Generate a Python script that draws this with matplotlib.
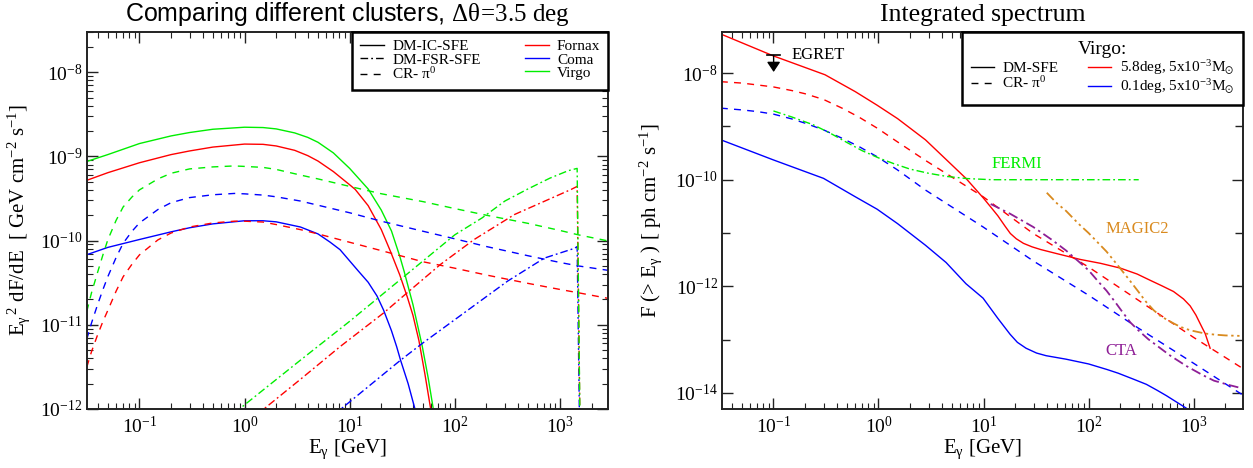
import matplotlib
matplotlib.use('Agg')
import matplotlib.pyplot as plt
import numpy as np
from matplotlib.lines import Line2D
from matplotlib.ticker import LogLocator, FixedLocator, FuncFormatter, NullFormatter

plt.rcParams['font.family'] = ['Liberation Serif', 'DejaVu Serif']
plt.rcParams['mathtext.fontset'] = 'custom'
plt.rcParams['mathtext.rm'] = 'Liberation Serif'
plt.rcParams['mathtext.it'] = 'Liberation Serif:italic'
plt.rcParams['mathtext.bf'] = 'Liberation Serif:bold'
plt.rcParams['mathtext.fallback'] = 'stix'

# ---------------- Left panel data: E^2 dF/dE [GeV cm^-2 s^-1] ----------------
# DM-IC-SFE (solid)
E_ic_virgo = [0.0316, 0.05, 0.1, 0.2, 0.3, 0.5, 1, 1.5, 2, 3, 4, 5, 7, 10, 15, 20, 25, 30, 33, 40, 49, 56, 62.5, 68]
F_ic_virgo = [8.7e-10, 1.05e-9, 1.42e-9, 1.75e-9, 1.92e-9, 2.1e-9, 2.22e-9, 2.2e-9, 2.12e-9, 1.9e-9, 1.68e-9,
              1.47e-9, 1.1e-9, 7.2e-10, 4.1e-10, 2.3e-10, 1.3e-10, 6.5e-11, 4.3e-11, 1.74e-11, 5.6e-12, 2.3e-12,
              1.0e-12, 4e-13]
E_ic_fornax = [0.0316, 0.05, 0.1, 0.2, 0.3, 0.5, 1, 1.5, 2, 3, 4, 5, 7, 10, 11.3, 15, 20, 24.5, 30, 35.3, 40, 45.6,
               52, 59, 64]
F_ic_fornax = [5.2e-10, 6.4e-10, 8.4e-10, 1.05e-9, 1.16e-9, 1.29e-9, 1.4e-9, 1.39e-9, 1.33e-9, 1.18e-9, 1.02e-9,
               8.8e-10, 6.6e-10, 4.6e-10, 4.05e-10, 2.6e-10, 1.35e-10, 7.4e-11, 3.9e-11, 2.15e-11, 1.3e-11, 6.5e-12,
               2.6e-12, 1.0e-12, 4e-13]
E_ic_coma = [0.0316, 0.05, 0.1, 0.2, 0.3, 0.5, 1, 1.5, 2, 3.4, 5, 6.5, 8.1, 12, 15, 18.2, 21, 25, 28, 30.5, 36, 42, 46]
F_ic_coma = [6.8e-11, 8.3e-11, 1.03e-10, 1.27e-10, 1.42e-10, 1.58e-10, 1.72e-10, 1.72e-10, 1.67e-10, 1.45e-10,
             1.2e-10, 9.6e-11, 7.8e-11, 4.4e-11, 3.2e-11, 2.2e-11, 1.5e-11, 8.5e-12, 5.5e-12, 3.8e-12, 2.0e-12,
             9.8e-13, 5e-13]

# CR - pi0 (dashed)
E_cr = [0.0316, 0.035, 0.04, 0.045, 0.05, 0.06, 0.07, 0.085, 0.1, 0.15, 0.2, 0.3, 0.5, 0.8, 1, 1.5, 2, 3.4,
        5, 10, 20, 50, 100, 200, 500, 1000, 1500, 3000]
F_cr_virgo = [1.45e-11, 2.4e-11, 4.2e-11, 6.8e-11, 1.02e-10, 1.74e-10, 2.51e-10, 3.3e-10, 4.0e-10, 5.4e-10, 6.3e-10,
              7.1e-10, 7.5e-10, 7.7e-10, 7.6e-10, 7.4e-10, 7.0e-10, 6.0e-10, 5.4e-10, 4.4e-10, 3.6e-10, 2.9e-10,
              2.4e-10, 2.0e-10, 1.6e-10, 1.32e-10, 1.17e-10, 9.8e-11]
F_cr_coma = [6.8e-12, 1.05e-11, 1.74e-11, 2.63e-11, 3.72e-11, 6.3e-11, 9.3e-11, 1.29e-10, 1.62e-10, 2.34e-10,
             2.82e-10, 3.24e-10, 3.5e-10, 3.63e-10, 3.59e-10, 3.47e-10, 3.31e-10, 2.95e-10, 2.63e-10, 2.14e-10,
             1.7e-10, 1.29e-10, 1.05e-10, 8.5e-11, 6.6e-11, 5.5e-11, 5.0e-11, 4.4e-11]
F_cr_fornax = [3.16e-12, 4.8e-12, 7.6e-12, 1.1e-11, 1.48e-11, 2.51e-11, 3.72e-11, 5.25e-11, 6.76e-11, 1.02e-10,
               1.23e-10, 1.45e-10, 1.62e-10, 1.7e-10, 1.7e-10, 1.66e-10, 1.55e-10, 1.35e-10, 1.2e-10, 9.55e-11,
               7.6e-11, 5.6e-11, 4.7e-11, 3.9e-11, 3.1e-11, 2.63e-11, 2.4e-11, 2.04e-11]

# DM-FSR-SFE (dash-dot)
E_fsr_virgo = [0.8, 1, 3.4, 10, 30, 100, 182, 300, 490, 800, 1200, 1460, 1580]
F_fsr_virgo = [8.9e-13, 1.12e-12, 3.8e-12, 1.1e-11, 3.4e-11, 1.17e-10, 1.86e-10, 2.95e-10, 4.07e-10, 5.5e-10,
               6.76e-10, 7.2e-10, 1e-13]
E_fsr_fornax = [1.3, 3.4, 8.1, 21, 38, 73, 153, 370, 1280, 1460, 1580]
F_fsr_fornax = [8.5e-13, 2.25e-12, 5.5e-12, 1.38e-11, 2.6e-11, 5.2e-11, 1.03e-10, 2.04e-10, 4.05e-10, 4.4e-10, 1e-13]
E_fsr_coma = [7, 8.1, 30.5, 49, 318, 713, 1380, 1460, 1570]
F_fsr_coma = [8.5e-13, 9.8e-13, 3.8e-12, 6.0e-12, 3.3e-11, 6.2e-11, 8.1e-11, 8.5e-11, 1e-13]

# ---------------- Right panel data: F(>E) [ph cm^-2 s^-1] ----------------
E_dm58 = [0.0316, 0.1, 0.31, 0.6, 0.97, 1.52, 2.8, 4.4, 6.8, 9.9, 12, 13.7, 16, 18, 20.5, 24, 29, 35, 50, 83, 130,
          200, 290, 385, 500, 643, 800, 926, 1050, 1153, 1230, 1288, 1384, 1435]
F_dm58 = [5.4e-8, 2.1e-8, 9.3e-9, 4.5e-9, 2.5e-9, 1.4e-9, 5.6e-10, 2.4e-10, 1.06e-10, 4.6e-11, 2.9e-11, 2.1e-11,
          1.35e-11, 9.8e-12, 7.8e-12, 6.4e-12, 5.5e-12, 4.9e-12, 4.1e-12, 3.2e-12, 2.7e-12, 2.2e-12, 1.7e-12,
          1.3e-12, 1.02e-12, 8e-13, 5.8e-13, 4.3e-13, 2.9e-13, 2.0e-13, 1.55e-13, 1.3e-13, 8.5e-14, 6.9e-14]
E_dm01 = [0.0316, 0.1, 0.3, 0.6, 0.97, 1.52, 2.8, 4.4, 6.8, 9.9, 13.7, 17.9, 21, 25.4, 32, 39.4, 61, 100, 150, 191,
          270, 355, 450, 550, 700, 875]
F_dm01 = [5.6e-10, 2.35e-10, 1.06e-10, 4.8e-11, 2.8e-11, 1.5e-11, 5.9e-12, 2.8e-12, 1.12e-12, 6.0e-13, 2.5e-13,
          1.26e-13, 8.9e-14, 6.9e-14, 5.6e-14, 5.0e-14, 4.3e-14, 3.5e-14, 2.75e-14, 2.35e-14, 1.8e-14, 1.45e-14,
          1.12e-14, 8.9e-15, 6.6e-15, 5e-15]
E_crint = [0.0316, 0.05, 0.07, 0.1, 0.15, 0.2, 0.3, 0.45, 0.65, 0.97, 1.5, 2.8, 9.9, 29.7, 100, 297, 1000, 3000]
F_cr58 = [6.9e-9, 6.5e-9, 6.0e-9, 5.5e-9, 4.7e-9, 4.1e-9, 3.2e-9, 2.2e-9, 1.5e-9, 9.3e-10, 5.2e-10, 2.3e-10,
          4.8e-11, 9.8e-12, 2.3e-12, 5.5e-13, 1.1e-13, 2.8e-14]
F_cr01 = [2.2e-9, 2.04e-9, 1.9e-9, 1.7e-9, 1.38e-9, 1.15e-9, 8.6e-10, 6.0e-10, 4.2e-10, 2.7e-10, 1.55e-10, 6.4e-11,
          1.3e-11, 3.0e-12, 6.8e-13, 1.65e-13, 3.6e-14, 8.9e-15]

E_fermi = [0.1, 0.15, 0.24, 0.35, 0.5, 0.7, 1.0, 1.4, 2, 3, 4.5, 7, 12, 300]
F_fermi = [1.95e-9, 1.5e-9, 1.07e-9, 7.4e-10, 5.0e-10, 3.5e-10, 2.57e-10, 2.0e-10, 1.58e-10, 1.32e-10, 1.15e-10,
           1.05e-10, 1.0e-10, 1.0e-10]
E_magic = [40, 50, 61, 80, 100, 148, 192, 240, 297, 350, 414, 480, 560, 650, 743, 850, 1000, 1290, 1600, 2000, 3000]
F_magic = [5.7e-11, 3.6e-11, 2.6e-11, 1.5e-11, 1.0e-11, 4.5e-12, 2.4e-12, 1.38e-12, 8.0e-13, 5.2e-13, 3.6e-13,
           2.8e-13, 2.35e-13, 2.0e-13, 1.75e-13, 1.58e-13, 1.45e-13, 1.3e-13, 1.24e-13, 1.2e-13, 1.17e-13]
E_cta = [11.7, 17.9, 29.7, 45, 61, 80, 100, 125, 148, 180, 210, 250, 297, 370, 460, 600, 853, 1200, 1560, 2200, 3000]
F_cta = [3.5e-11, 2.3e-11, 1.3e-11, 7.4e-12, 4.7e-12, 2.95e-12, 2.0e-12, 1.2e-12, 8.3e-13, 5.0e-13, 3.3e-13,
         2.1e-13, 1.5e-13, 1.02e-13, 7.4e-14, 5.0e-14, 3.2e-14, 2.2e-14, 1.7e-14, 1.4e-14, 1.2e-14]

egret_E = [0.087, 0.116]
egret_F = 2.15e-8
egret_tip = 1.05e-8

# tick values
x_major = [1e-1, 1e0, 1e1, 1e2, 1e3]
y1_major = [1e-12, 1e-11, 1e-10, 1e-9, 1e-8]
y2_major = [1e-14, 1e-12, 1e-10, 1e-8]
y2_minor = [1e-13, 1e-11, 1e-9]

# ---------------- styles ----------------
RED, BLUE, GREEN = '#ff0000', '#0000ff', '#00ee00'
ORANGE, PURPLE = '#d98a1e', '#8e1e96'
DASH = (0, (5, 4.5))
DASHDOT = (0, (5.5, 2.2, 1.3, 2.2))
DASHDOTDOT = (0, (5.5, 2.0, 1.3, 2.0, 1.3, 2.0))
LW = 1.0

W, H = 1253, 468
fig = plt.figure(figsize=(W / 100, H / 100), dpi=100)
ax1 = fig.add_axes([86.7 / W, 1 - 409 / H, (608 - 86.7) / W, (409 - 32) / H])
ax2 = fig.add_axes([722 / W, 1 - 409 / H, (1243 - 722) / W, (409 - 32) / H])

fmt = FuncFormatter(lambda v, p: r'$\mathdefault{10^{%d}}$' % int(round(np.log10(v))))

for ax in (ax1, ax2):
    ax.set_xscale('log')
    ax.set_yscale('log')
    ax.xaxis.set_major_locator(FixedLocator(x_major))
    ax.xaxis.set_minor_locator(LogLocator(base=10, subs=np.arange(2, 10), numticks=20))
    ax.xaxis.set_major_formatter(fmt)
    ax.xaxis.set_minor_formatter(NullFormatter())
    ax.yaxis.set_major_formatter(fmt)
    ax.yaxis.set_minor_formatter(NullFormatter())
    ax.tick_params(which='both', direction='in', top=True, right=True, color='#222222')
    ax.tick_params(which='major', length=8, width=1.0, labelsize=14)
    ax.tick_params(which='minor', length=4, width=0.8)
    ax.tick_params(axis='x', which='major', pad=5)
    ax.tick_params(axis='y', which='major', pad=3)
    for s in ax.spines.values():
        s.set_linewidth(1.4)
        s.set_color('#222222')
    ax.set_xlabel(r'E$_{\mathrm{\gamma}}$ [GeV]', fontsize=15, labelpad=0)

# ---------------- Left panel ----------------
ax1.plot(E_ic_virgo, F_ic_virgo, color=GREEN, lw=LW)
ax1.plot(E_ic_fornax, F_ic_fornax, color=RED, lw=LW)
ax1.plot(E_ic_coma, F_ic_coma, color=BLUE, lw=LW)
ax1.plot(E_cr, F_cr_virgo, color=GREEN, lw=LW, ls=DASH)
ax1.plot(E_cr, F_cr_coma, color=BLUE, lw=LW, ls=DASH)
ax1.plot(E_cr, F_cr_fornax, color=RED, lw=LW, ls=DASH)
ax1.plot(E_fsr_coma, F_fsr_coma, color=BLUE, lw=LW, ls=DASHDOT)
ax1.plot(E_fsr_fornax, F_fsr_fornax, color=RED, lw=LW, ls=DASHDOT)
ax1.plot(E_fsr_virgo, F_fsr_virgo, color=GREEN, lw=LW, ls=DASHDOT)

ax1.set_xlim(0.0315, 2870)
ax1.set_ylim(1e-12, 3.0e-8)
ax1.yaxis.set_major_locator(FixedLocator(y1_major))
ax1.yaxis.set_minor_locator(LogLocator(base=10, subs=np.arange(2, 10), numticks=20))
ax1.set_ylabel(r'E$_{\mathrm{\gamma}}$$^{\,\mathrm{2}}$ dF/dE  [ GeV cm$^{\mathrm{-2}}$ s$^{\mathrm{-1}}$]',
               fontsize=15, labelpad=6)
ax1.set_title(r'Comparing different clusters, $\mathrm{\Delta\theta\!=\!3.5\ deg}$',
              family='Liberation Sans', fontsize=18, pad=8)

h1 = [Line2D([], [], color='k', lw=LW),
      Line2D([], [], color='k', lw=LW, ls=DASHDOT),
      Line2D([], [], color='k', lw=LW, ls=DASH),
      Line2D([], [], color=RED, lw=LW),
      Line2D([], [], color=BLUE, lw=LW),
      Line2D([], [], color=GREEN, lw=LW)]
l1 = ['DM-IC-SFE', 'DM-FSR-SFE', r'CR- $\mathrm{\pi}^{\mathrm{0}}$', 'Fornax', 'Coma', 'Virgo']
leg1 = ax1.legend(h1, l1, ncol=2, loc='upper right', bbox_to_anchor=(1, 1), borderaxespad=0,
                  fontsize=11, handlelength=1.55, handletextpad=0.55, columnspacing=2.9,
                  labelspacing=-0.03, borderpad=0.5, fancybox=False, framealpha=1, edgecolor='k')
leg1.get_frame().set_linewidth(1.8)

# ---------------- Right panel ----------------
ax2.plot(E_dm58, F_dm58, color=RED, lw=LW)
ax2.plot(E_dm01, F_dm01, color=BLUE, lw=LW)
ax2.plot(E_crint, F_cr58, color=RED, lw=LW, ls=DASH)
ax2.plot(E_crint, F_cr01, color=BLUE, lw=LW, ls=DASH)
ax2.plot(E_fermi, F_fermi, color=GREEN, lw=LW, ls=DASHDOT)
ax2.plot(E_magic, F_magic, color=ORANGE, lw=1.3, ls=DASHDOTDOT)
ax2.plot(E_cta, F_cta, color=PURPLE, lw=1.3, ls=DASHDOT)

ax2.plot(egret_E, [egret_F, egret_F], color='k', lw=1.2)
ax2.annotate('', xy=(np.sqrt(egret_E[0] * egret_E[1]), egret_tip),
             xytext=(np.sqrt(egret_E[0] * egret_E[1]), egret_F),
             arrowprops=dict(arrowstyle='-|>,head_length=0.6,head_width=0.4', color='k', lw=1.0,
                             shrinkA=0, shrinkB=0, mutation_scale=10))
ax2.text(0.148, 2.2e-8, 'EGRET', fontsize=12, color='k', ha='left', va='center')
ax2.text(12, 2.0e-10, 'FERMI', fontsize=12, color=GREEN, ha='left', va='center')
ax2.text(144, 1.2e-11, 'MAGIC2', fontsize=12, color=ORANGE, ha='left', va='center')
ax2.text(144, 6.1e-14, 'CTA', fontsize=12, color=PURPLE, ha='left', va='center')

ax2.set_xlim(0.0324, 2950)
ax2.set_ylim(5.0e-15, 5.9e-8)
ax2.yaxis.set_major_locator(FixedLocator(y2_major))
ax2.yaxis.set_minor_locator(FixedLocator(y2_minor))
ax2.tick_params(axis='y', which='minor', length=5.5, width=1.0)
ax2.set_ylabel(r'F (> E$_{\mathrm{\gamma}}$ ) [ ph cm$^{\mathrm{-2}}$ s$^{\mathrm{-1}}$]', fontsize=15, labelpad=8)
ax2.set_title('Integrated spectrum', fontsize=18.5, pad=8)

h2 = [Line2D([], [], color='k', lw=LW),
      Line2D([], [], color='k', lw=LW, ls=DASH),
      Line2D([], [], color=RED, lw=LW),
      Line2D([], [], color=BLUE, lw=LW)]
l2 = ['DM-SFE', r'CR- $\mathrm{\pi}^{\mathrm{0}}$',
      r'5.8deg, 5x10$^{\mathrm{-3}}$M$_{\odot}$', r'0.1deg, 5x10$^{\mathrm{-3}}$M$_{\odot}$']
leg2 = ax2.legend(h2, l2, ncol=2, loc='upper right', bbox_to_anchor=(1, 1), borderaxespad=0,
                  fontsize=11, handlelength=1.5, handletextpad=0.55, columnspacing=1.95,
                  labelspacing=0.0, borderpad=0.6, fancybox=False, framealpha=1, edgecolor='k',
                  title='Virgo:', title_fontsize=14)
leg2.get_frame().set_linewidth(1.8)

fig.savefig('out.png', dpi=100)
